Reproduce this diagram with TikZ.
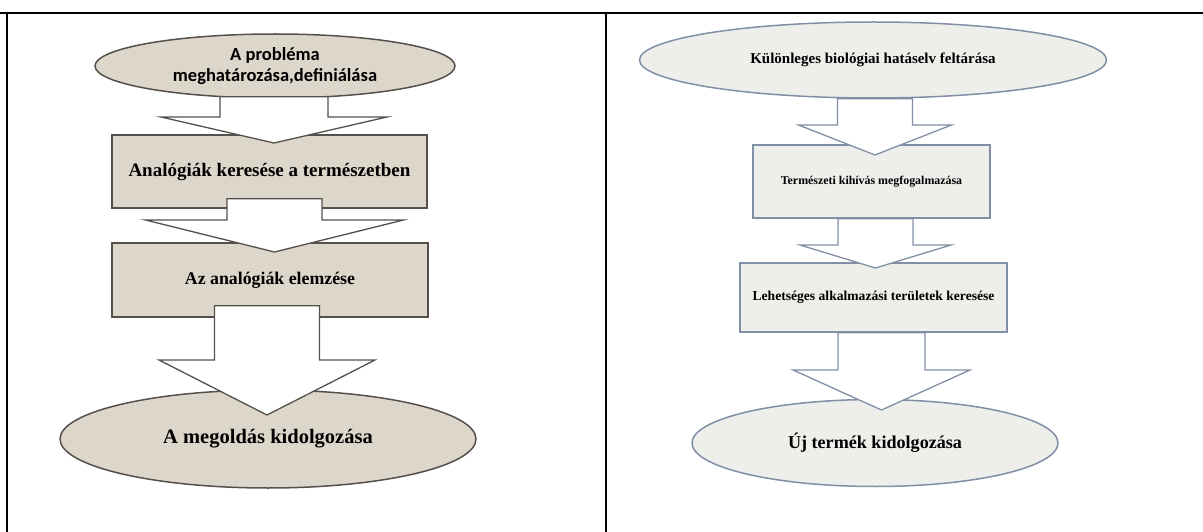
\documentclass[tikz,border=0pt]{standalone}
\usepackage{fontspec}
\setmainfont{Liberation Serif}
\newfontfamily\calfont{Carlito}
\usetikzlibrary{shapes,calc}

\definecolor{tanfill}{RGB}{221,214,202}
\definecolor{tanline}{RGB}{85,80,76}
\definecolor{palefill}{RGB}{238,239,235}
\definecolor{blueline}{RGB}{128,143,165}

% #1 source node, #2 tip, #3 half shaft, #4 half head, #5 head length, #6 overlap
\newcommand{\bigarrow}[7][]{
	\draw[blockarrow,#1] ($(#3 |- #2.south)+(-#4,-#7)$) -- ($(#3)+(-#4,-#6)$) -- ($(#3)+(-#5,-#6)$) -- (#3)
		-- ($(#3)+(#5,-#6)$) -- ($(#3)+(#4,-#6)$) -- ($(#3 |- #2.south)+(#4,-#7)$) -- cycle;}

\begin{document}
\begin{tikzpicture}[x=1pt,y=-1pt,font=\bfseries,
	oval/.style={draw=tanline, fill=tanfill, line width=1.5pt, ellipse, inner sep=0pt},
	stepbox/.style={draw=tanline, fill=tanfill, line width=1.5pt, rectangle, inner sep=0pt},
	paleoval/.style={oval, draw=blueline, fill=palefill},
	palebox/.style={stepbox, draw=blueline, fill=palefill},
	blockarrow/.style={draw=tanline, fill=white, line width=1.3pt, line join=miter}]
	\useasboundingbox (0,0) rectangle (1203,532);
	\draw[line width=1.5pt] (0,13) -- (1203,13);
	\draw[line width=1.5pt] (7,12) -- (7,532);
	\draw[line width=1.2pt] (606,12) -- (606,532);
	% left
	\node[oval, minimum width=360, minimum height=64, align=center, font=\calfont\bfseries\fontsize{18.5}{21}\selectfont] (problema) at (275,66) {A probléma\\meghatározása,definiálása};
	\node[stepbox, minimum width=315, minimum height=73, font=\bfseries\fontsize{19}{22}\selectfont] (kereses) at (269.5,171.5) {Analógiák keresése a természetben};
	\node[stepbox, minimum width=316, minimum height=74, font=\bfseries\fontsize{17.8}{20}\selectfont] (elemzes) at (270,280) {Az analógiák elemzése};
	\node[oval, minimum width=416, minimum height=98, font=\bfseries\fontsize{20.5}{22}\selectfont] (megoldas) at (268,439) {A megoldás kidolgozása};
	\coordinate (tip1) at (274,143);
	\coordinate (tip2) at (274.5,252);
	\coordinate (tip3) at (267,415);
	\bigarrow{problema}{tip1}{54}{113}{26}{2}
	\bigarrow{kereses}{tip2}{47.5}{129}{32}{10}
	\bigarrow{elemzes}{tip3}{52.5}{108}{55}{12}
	% right
	\node[paleoval, minimum width=467, minimum height=76, font=\bfseries\fontsize{15}{18}\selectfont] (hataselv) at (873,60) {Különleges biológiai hatáselv feltárása};
	\node[palebox, minimum width=237, minimum height=73, font=\bfseries\fontsize{11.9}{14}\selectfont] (kihivas) at (871.5,181.5) {Természeti kihívás megfogalmazása};
	\node[palebox, minimum width=267, minimum height=69, font=\bfseries\fontsize{13.6}{16}\selectfont] (teruletek) at (873.5,297.5) {Lehetséges alkalmazási területek keresése};
	\node[paleoval, minimum width=366, minimum height=87, font=\bfseries\fontsize{18.1}{20}\selectfont] (termek) at (875,443) {Új termék kidolgozása};
	\coordinate (tip4) at (875,155);
	\coordinate (tip5) at (875.5,268);
	\coordinate (tip6) at (881.5,410);
	\bigarrow[draw=blueline]{hataselv}{tip4}{37.5}{76.5}{30}{0}
	\bigarrow[draw=blueline]{kihivas}{tip5}{37.5}{75.5}{23}{0}
	\bigarrow[draw=blueline]{teruletek}{tip6}{43.5}{88.5}{40}{0}
\end{tikzpicture}
\end{document}
